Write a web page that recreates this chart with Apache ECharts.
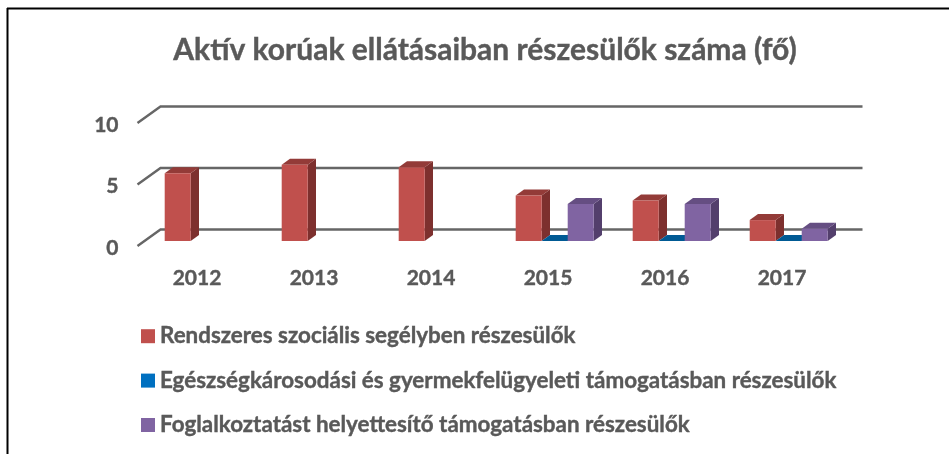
<!DOCTYPE html>
<html>
<head>
<meta charset="utf-8">
<style>
  html, body { margin: 0; padding: 0; background: #fff; }
  #main { width: 949px; height: 454px; }
</style>
<script src="https://cdn.jsdelivr.net/npm/echarts@6/dist/echarts.min.js"></script>
</head>
<body>
<div id="main"></div>
<script>
const years = ["2012", "2013", "2014", "2015", "2016", "2017"];
const yTicks = [0, 5, 10];
const rendszeres = [5.5, 6.2, 6, 3.7, 3.3, 1.7];
const egeszseg = [null, null, null, 0, 0, 0];
const foglalkoztatast = [null, null, null, 3, 3, 1];

const names = [
  "Rendszeres szociális segélyben részesülők",
  "Egészségkárosodási és gyermekfelügyeleti támogatásban részesülők",
  "Foglalkoztatást helyettesítő támogatásban részesülők"
];

const textColor = "#595959";
const font = "Lato";

// a 3D oszlop harom lapja
function bar3d(idx, colors) {
  return function (params, api) {
    const v = api.value(1);
    if (v == null || isNaN(v)) return;
    const band = api.size([1, 0])[0];
    const barW = band * 2 / 9;
    const base = api.coord([api.value(0), 0]);
    const top = api.coord([api.value(0), v]);
    const x0 = base[0] - barW * 1.5 + barW * idx + 7.7;
    const yb = base[1] - 5;
    const yt = top[1] - 5;
    const dx = 8.3, dy = 6;
    return {
      type: "group",
      children: [
        { type: "polygon", shape: { points: [[x0 + barW, yb], [x0 + barW + dx, yb - dy], [x0 + barW + dx, yt - dy], [x0 + barW, yt]] }, style: { fill: colors[1] } },
        { type: "polygon", shape: { points: [[x0, yt], [x0 + dx, yt - dy], [x0 + barW + dx, yt - dy], [x0 + barW, yt]] }, style: { fill: colors[2] } },
        { type: "rect", shape: { x: x0, y: yt, width: barW, height: yb - yt }, style: { fill: colors[0] } }
      ]
    };
  };
}

// hatso fal vonalai
function wallLine(params, api) {
  const cs = params.coordSys;
  const y = api.coord([0, api.value(0)])[1];
  const dx = 23, dy = 16.5;
  return {
    type: "polyline",
    shape: { points: [[cs.x, y], [cs.x + dx, y - dy], [cs.x + cs.width + dx, y - dy]] },
    style: { fill: null, stroke: "#666666", lineWidth: 2.4 }
  };
}

function barSeries(name, values, idx, colors) {
  return {
    type: "custom",
    name: name,
    z: 3 + idx,
    renderItem: bar3d(idx, colors),
    itemStyle: { color: colors[3] },
    encode: { x: 0, y: 1 },
    data: values.map((v, i) => [i, v]),
    silent: true
  };
}

const boldText = { fontFamily: font, fontWeight: "bold", color: textColor, textBorderColor: textColor, textBorderWidth: 0.4 };

const myChart = echarts.init(document.getElementById("main"));

myChart.setOption({
  animation: false,
  backgroundColor: "#fff",
  title: {
    text: "Aktív korúak ellátásaiban részesülők száma (fő)",
    left: 480,
    top: 30,
    textAlign: "center",
    textStyle: Object.assign({ fontSize: 30 }, boldText)
  },
  grid: { left: 137.5, top: 123, width: 702, height: 123 },
  xAxis: {
    type: "category",
    data: years,
    axisLine: { show: false },
    axisTick: { show: false },
    axisLabel: Object.assign({ fontSize: 21, margin: 22, padding: [0, 0, 0, 2] }, boldText)
  },
  yAxis: {
    type: "value",
    min: 0,
    max: 10,
    interval: 5,
    axisLine: { show: false },
    axisTick: { show: false },
    splitLine: { show: false },
    axisLabel: Object.assign({ fontSize: 21, margin: 19, verticalAlign: "top", lineHeight: 4 }, boldText)
  },
  legend: {
    orient: "vertical",
    left: 141,
    top: 325,
    padding: 0,
    itemWidth: 14,
    itemHeight: 14,
    itemGap: 22,
    icon: "rect",
    data: names,
    selectedMode: false,
    textStyle: Object.assign({ fontSize: 22.4, lineHeight: 19 }, boldText)
  },
  series: [
    {
      type: "custom",
      name: "fal",
      z: 1,
      silent: true,
      renderItem: wallLine,
      encode: { y: 0 },
      data: yTicks.map(t => [t])
    },
    barSeries(names[0], rendszeres, 0, ["#C0504D", "#7D302E", "#933B38", "#C0504D"]),
    barSeries(names[1], egeszseg, 1, ["#005A94", "#00477A", "#005A94", "#0070C0"]),
    barSeries(names[2], foglalkoztatast, 2, ["#8064A2", "#533F6C", "#654E82", "#8064A2"])
  ],
  graphic: [
    { type: "line", shape: { x1: 7.5, y1: 8, x2: 7.5, y2: 454 }, style: { stroke: "#000", lineWidth: 2 } },
    { type: "line", shape: { x1: 7, y1: 8.5, x2: 949, y2: 8.5 }, style: { stroke: "#000", lineWidth: 2 } }
  ]
});
</script>
</body>
</html>
